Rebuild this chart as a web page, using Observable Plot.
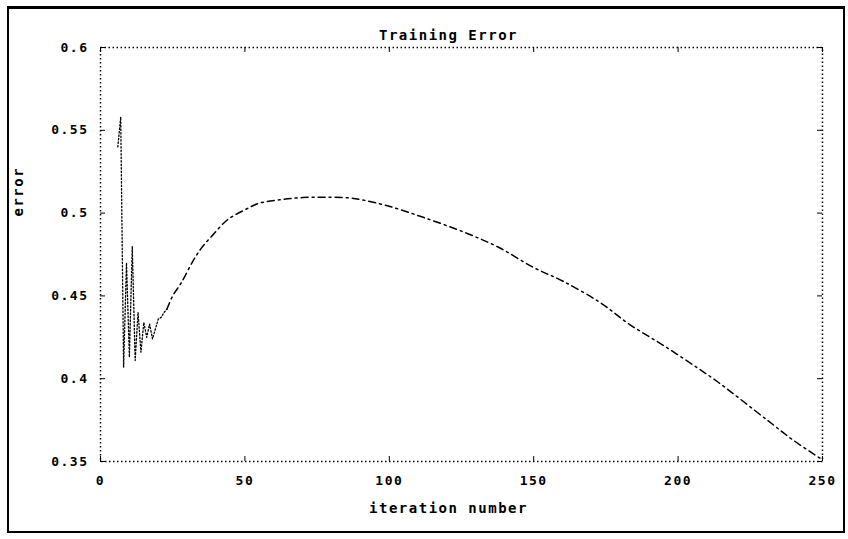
<!DOCTYPE html>
<html>
<head>
<meta charset="utf-8">
<script src="https://cdn.jsdelivr.net/npm/d3@7"></script>
<script src="https://cdn.jsdelivr.net/npm/@observablehq/plot@0.6"></script>
<style>
  html, body { margin: 0; padding: 0; background: #fff; }
  #wrap { position: relative; width: 848px; height: 539px; overflow: hidden; }
  #wrap svg { position: absolute; left: 0; top: 0; }
  #wrap svg text { letter-spacing: 1.5px; }
  #outer { position: absolute; left: 7px; top: 6px; width: 834px; height: 522px;
           border: 2px solid #000; border-top-width: 3px; pointer-events: none; }
</style>
</head>
<body>
<div id="wrap"><div id="outer"></div></div>
<script>
const title = "Training Error";
const xLabel = "iteration number";
const yLabel = "error";
const xTicks = [0, 50, 100, 150, 200, 250];
const yTicks = [0.35, 0.4, 0.45, 0.5, 0.55, 0.6];

// early oscillating iterations
const iterEarly = [6,7,8,9,10,11,12,13,14,15,16,17,18,19,20,21,22,23];
const errEarly  = [0.540,0.558,0.407,0.470,0.413,0.480,0.411,0.440,0.416,0.434,0.425,0.433,0.424,0.430,0.436,0.437,0.440,0.442];
// smooth part
const iterLate = [23,25,28,32,35,39,44,50,55,62,70,78,86,90,99,112,127,138,150,160,173,183,195,207,214,231,240,250];
const errLate  = [0.442,0.450,0.458,0.471,0.479,0.487,0.496,0.502,0.506,0.508,0.5094,0.5096,0.5092,0.5082,0.5046,0.4973,0.4877,0.4792,0.4671,0.4590,0.4460,0.4330,0.4200,0.4062,0.3977,0.3748,0.3627,0.351];

const early = iterEarly.map((x, i) => ({x, y: errEarly[i]}));
const late = iterLate.map((x, i) => ({x, y: errLate[i]}));

const font = "DejaVu Sans Mono";
const W = 848, H = 539, mL = 100, mR = 26, mT = 47, mB = 78;
const fw = W - mL - mR, fh = H - mT - mB;

const chart = Plot.plot({
  width: W, height: H,
  marginLeft: mL, marginRight: mR, marginTop: mT, marginBottom: mB,
  style: {fontFamily: font, fontSize: "13px", fontWeight: "bold", color: "#000", background: "transparent"},
  x: {domain: [0, 250], ticks: xTicks, label: null},
  y: {domain: [0.35, 0.6], ticks: yTicks, label: null},
  marks: [
    Plot.frame({stroke: "#000", strokeWidth: 1.5, strokeDasharray: "1.5,2.5"}),
    Plot.axisX(xTicks, {anchor: "bottom", tickSize: 0, tickPadding: 14, label: null, fontSize: 13, fontWeight: "bold"}),
    Plot.axisY(yTicks, {anchor: "left", tickSize: 0, tickPadding: 12, label: null, fontSize: 13, fontWeight: "bold", tickFormat: d => String(d)}),
    // inward ticks
    Plot.tickX(xTicks, {x: d => d, insetTop: fh - 5, stroke: "#000"}),
    Plot.tickX(xTicks, {x: d => d, insetBottom: fh - 5, stroke: "#000"}),
    Plot.tickY(yTicks, {y: d => d, insetRight: fw - 5, stroke: "#000"}),
    Plot.tickY(yTicks, {y: d => d, insetLeft: fw - 5, stroke: "#000"}),
    // data
    Plot.line(early, {x: "x", y: "y", stroke: "#000", strokeWidth: 1.3, strokeDasharray: "1.5,2"}),
    Plot.line(late, {x: "x", y: "y", curve: "catmull-rom", stroke: "#000", strokeWidth: 1.5, strokeDasharray: "7,4,2,4"}),
    // labels
    Plot.text([title], {text: d => d, frameAnchor: "top", dy: -17, dx: -13, fontSize: 14, fontWeight: "bold"}),
    Plot.text([xLabel], {text: d => d, frameAnchor: "bottom", dy: 51, dx: -13, fontSize: 14, fontWeight: "bold"}),
    Plot.text([yLabel], {text: d => d, frameAnchor: "left", rotate: -90, dx: -82, dy: -38, fontSize: 14, fontWeight: "bold"})
  ]
});
document.getElementById("wrap").prepend(chart);
</script>
</body>
</html>
